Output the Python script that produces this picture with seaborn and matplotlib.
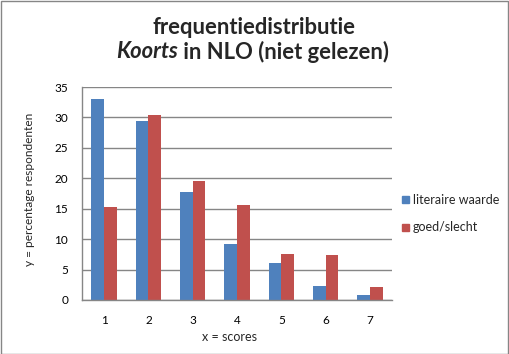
import matplotlib
matplotlib.use("Agg")
import matplotlib.pyplot as plt
import seaborn as sns
import pandas as pd
from matplotlib.patches import Rectangle

scores = ["1", "2", "3", "4", "5", "6", "7"]
literaire_waarde = [33.0, 29.4, 17.7, 9.2, 6.1, 2.3, 0.8]
goed_slecht = [15.2, 30.4, 19.5, 15.6, 7.6, 7.4, 2.1]
series_names = ["literaire waarde", "goed/slecht"]
colors = ["#4F81BD", "#C0504D"]

df = pd.DataFrame({
    "score": scores * 2,
    "value": literaire_waarde + goed_slecht,
    "serie": [series_names[0]] * len(scores) + [series_names[1]] * len(scores),
})

sns.set_theme(style="white")
FONT = ["Lato", "DejaVu Sans"]
plt.rcParams["font.family"] = FONT

W, H = 509, 354
fig = plt.figure(figsize=(W / 100, H / 100), dpi=100)
AX_L, AX_R, AX_T, AX_B = 82, 392, 87, 300
ax = fig.add_axes([AX_L / W, 1 - AX_B / H, (AX_R - AX_L) / W, (AX_B - AX_T) / H])

sns.barplot(data=df, x="score", y="value", hue="serie", hue_order=series_names,
            palette=colors, width=0.571, gap=0, saturation=1, ax=ax,
            linewidth=0, legend=False, errorbar=None)

ax.set_ylim(0, 35)
ax.set_yticks(range(0, 36, 5))
ax.set_xlim(-0.5, 6.5)
ax.yaxis.grid(True, color="#868686", linewidth=1)
ax.set_axisbelow(True)
for s in ["top", "right"]:
    ax.spines[s].set_visible(False)
for s in ["left", "bottom"]:
    ax.spines[s].set_color("#868686")
    ax.spines[s].set_linewidth(1)
ax.tick_params(axis="both", length=0, labelsize=8.5, colors="#000000")
ax.tick_params(axis="y", pad=10)
ax.tick_params(axis="x", pad=11)
ax.set_xlabel("x = scores", fontsize=9)
ax.set_ylabel("y = percentage respondenten", fontsize=8.6)
ax.xaxis.set_label_coords((230 - AX_L) / (AX_R - AX_L), -(337 - AX_B) / (AX_B - AX_T))
ax.xaxis.label.set_va("center")
ax.yaxis.set_label_coords((30 - AX_L) / (AX_R - AX_L), (AX_B - 189) / (AX_B - AX_T))
ax.yaxis.label.set_va("center")

# legend
for i, (name, c) in enumerate(zip(series_names, colors)):
    yc = 1 - (199.5 + i * 27.5) / H
    fig.patches.append(Rectangle((402 / W, yc - 3.5 / H), 7 / W, 7 / H,
                                 transform=fig.transFigure, color=c, figure=fig))
    fig.text(413 / W, yc, name, fontsize=9, va="center", ha="left")

# title
TS = 15.8
fig.text(254 / W, 1 - 27 / H, "frequentiedistributie", fontsize=TS, fontweight="bold",
         ha="center", va="center")
fig.canvas.draw()
r = fig.canvas.get_renderer()
t1 = fig.text(0, 1 - 52 / H, "Koorts", fontsize=TS, fontweight="bold", style="italic",
              ha="left", va="center")
t2 = fig.text(0, 1 - 52 / H, " in NLO (niet gelezen)", fontsize=TS, fontweight="bold",
              ha="left", va="center")
w1 = t1.get_window_extent(r).width
w2 = t2.get_window_extent(r).width
x0 = 252.5 - (w1 + w2) / 2
t1.set_x(x0 / W)
t2.set_x((x0 + w1) / W)

# border
fig.patches.append(Rectangle((0.5 / W, 0.5 / H), (W - 1.5) / W, (H - 1.5) / H,
                             transform=fig.transFigure, fill=False,
                             edgecolor="#868686", linewidth=1, figure=fig))

fig.savefig("out.png", dpi=100)
